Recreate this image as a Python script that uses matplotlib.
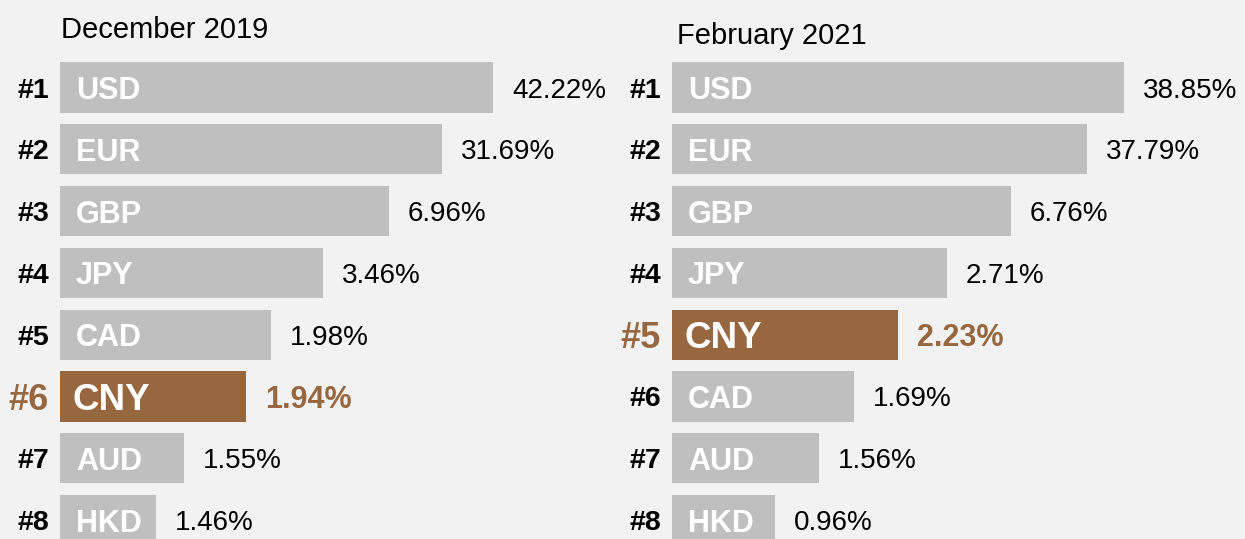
import matplotlib
matplotlib.use("Agg")
import matplotlib.pyplot as plt

# ---- data ----
titles = ["December 2019", "February 2021"]
currencies_2019 = ["USD", "EUR", "GBP", "JPY", "CAD", "CNY", "AUD", "HKD"]
shares_2019 = ["42.22%", "31.69%", "6.96%", "3.46%", "1.98%", "1.94%", "1.55%", "1.46%"]
bar_length_2019 = [433, 382, 329, 263, 211, 186, 124, 96]

currencies_2021 = ["USD", "EUR", "GBP", "JPY", "CNY", "CAD", "AUD", "HKD"]
shares_2021 = ["38.85%", "37.79%", "6.76%", "2.71%", "2.23%", "1.69%", "1.56%", "0.96%"]
bar_length_2021 = [452, 415, 339, 275, 226, 182, 147, 103]

ranks = ["#1", "#2", "#3", "#4", "#5", "#6", "#7", "#8"]
highlight = "CNY"

# ---- style ----
BG = "#F2F2F2"
GREY = "#BFBFBF"
BROWN = "#976840"
FONT = "Liberation Sans"

W, H = 1245, 539
fig = plt.figure(figsize=(W / 100, H / 100), dpi=100, facecolor=BG)

first_center = 87.5
spacing = 61.8
y_top = -first_center / spacing
y_bot = (H - first_center) / spacing


def panel(x0_px, x1_px, title, title_dx, title_y_px, cur, shares, lengths):
    ax = fig.add_axes([x0_px / W, 0, (x1_px - x0_px) / W, 1])
    ax.set_facecolor(BG)
    ax.set_xlim(0, x1_px - x0_px)
    ax.set_ylim(y_bot, y_top)
    ax.axis("off")
    ys = list(range(len(cur)))
    colors = [BROWN if c == highlight else GREY for c in cur]
    ax.barh(ys, lengths, height=0.81, color=colors, left=0, clip_on=True)
    for y, c, s, L, r in zip(ys, cur, shares, lengths, ranks):
        hl = c == highlight
        ax.annotate(r, (0, y), xytext=(-11, 0), textcoords="offset pixels",
                    ha="right", va="center_baseline", fontsize=26 if hl else 20.5,
                    fontweight="bold", color=BROWN if hl else "black",
                    family=FONT, annotation_clip=False)
        ax.annotate(c, (0, y), xytext=(12 if hl else 16, 0), textcoords="offset pixels",
                    ha="left", va="center_baseline", fontsize=26.5 if hl else 22,
                    fontweight="bold", color="white", family=FONT)
        ax.annotate(s, (L, y), xytext=(19, 0), textcoords="offset pixels",
                    ha="left", va="center_baseline", fontsize=22 if hl else 20,
                    fontweight="bold" if hl else "normal",
                    color=BROWN if hl else "black", family=FONT,
                    annotation_clip=False)
    ax.text(title_dx, (title_y_px - first_center) / spacing, title,
            ha="left", va="center_baseline", fontsize=21, color="black",
            family=FONT)
    return ax


panel(60, 612, titles[0], 1, 27, currencies_2019, shares_2019, bar_length_2019)
panel(672, 1245, titles[1], 5, 33, currencies_2021, shares_2021, bar_length_2021)

fig.savefig("out.png", dpi=100, facecolor=BG)
